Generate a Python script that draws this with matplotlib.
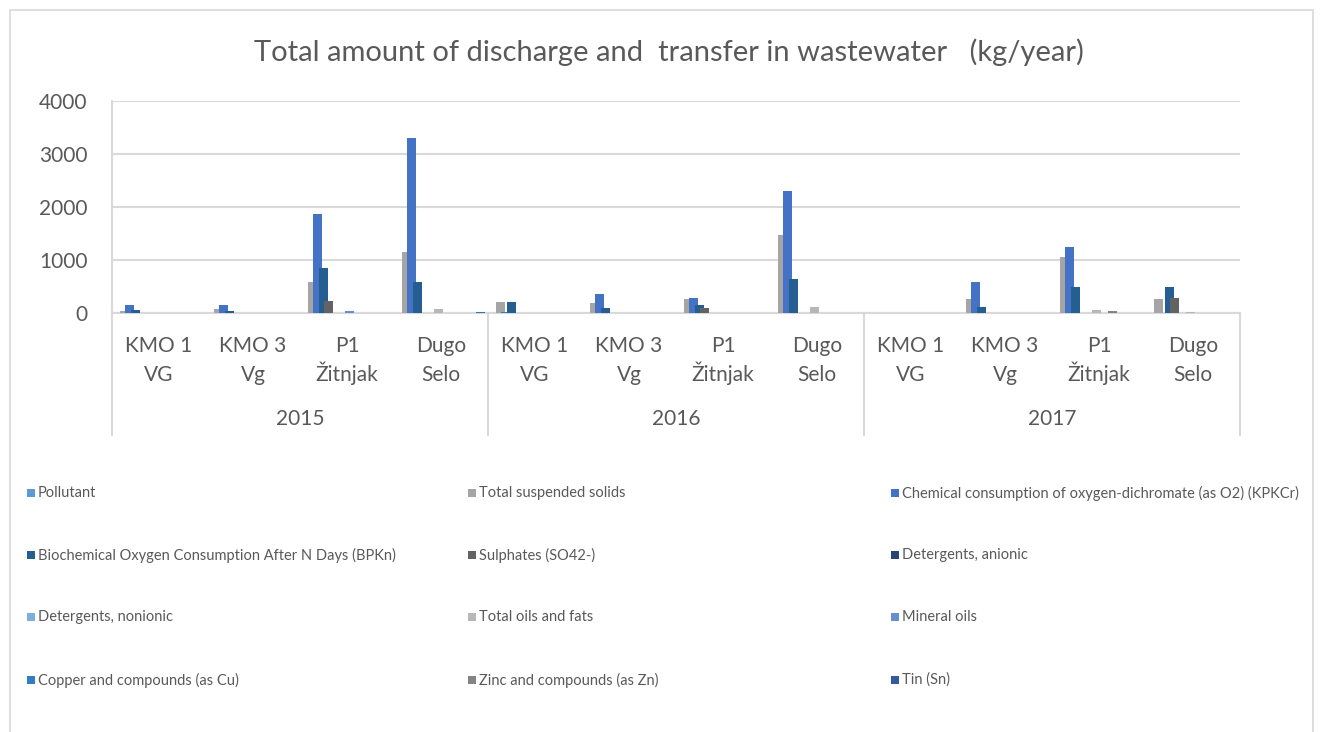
import numpy as np
import matplotlib
matplotlib.use("Agg")
import matplotlib.pyplot as plt
from matplotlib.patches import Rectangle
from matplotlib.transforms import blended_transform_factory

plt.rcParams["font.family"] = ["Lato", "DejaVu Sans"]

# ---- data ------------------------------------------------------------------
years = ["2015", "2016", "2017"]
sites = ["KMO 1\nVG", "KMO 3\nVg", "P1\nŽitnjak", "Dugo\nSelo"]

series_names = [
    "Pollutant",
    "Total suspended solids",
    "Chemical consumption of oxygen-dichromate (as O2) (KPKCr)",
    "Biochemical Oxygen Consumption After N Days (BPKn)",
    "Sulphates (SO42-)",
    "Detergents, anionic",
    "Detergents, nonionic",
    "Total oils and fats",
    "Mineral oils",
    "Copper and compounds (as Cu)",
    "Zinc and compounds (as Zn)",
    "Tin (Sn)",
    # the last four do not fit in the legend box of the original chart
    "Total nitrogen",
    "Total phosphorus",
    "Nickel and compounds (as Ni)",
    "Lead and compounds (as Pb)",
]

# 12 categories: 2015 x 4 sites, 2016 x 4 sites, 2017 x 4 sites
pollutant    = [0, 0, 0, 0, 0, 0, 0, 0, 0, 0, 0, 0]
tss          = [40, 70, 580, 1160, 200, 180, 260, 1480, 0, 260, 1060, 260]
cod          = [150, 150, 1870, 3300, 10, 350, 290, 2300, 0, 590, 1250, 0]
bpk          = [50, 30, 840, 580, 200, 90, 145, 635, 0, 120, 500, 485]
sulphates    = [0, 0, 220, 0, 0, 0, 100, 0, 0, 0, 0, 280]
det_anionic  = [0, 0, 0, 5, 0, 0, 0, 0, 0, 0, 0, 0]
det_nonionic = [0, 0, 0, 0, 0, 0, 0, 5, 0, 0, 0, 0]
oils_fats    = [0, 0, 5, 70, 0, 0, 8, 120, 0, 6, 55, 10]
mineral_oils = [0, 0, 40, 0, 0, 0, 0, 0, 0, 0, 0, 0]
copper       = [0, 0, 0, 0, 0, 0, 0, 0, 0, 0, 0, 0]
zinc         = [0, 0, 0, 0, 0, 0, 0, 0, 0, 0, 30, 0]
tin          = [0, 0, 0, 0, 0, 0, 0, 0, 0, 0, 0, 0]
nitrogen     = [0, 0, 0, 0, 0, 0, 0, 0, 0, 0, 0, 0]
phosphorus   = [0, 0, 0, 0, 0, 0, 0, 0, 0, 0, 0, 0]
nickel       = [0, 0, 0, 0, 0, 0, 0, 0, 0, 0, 0, 0]
lead         = [0, 0, 0, 20, 0, 0, 0, 0, 0, 0, 0, 0]

values = [pollutant, tss, cod, bpk, sulphates, det_anionic, det_nonionic,
          oils_fats, mineral_oils, copper, zinc, tin,
          nitrogen, phosphorus, nickel, lead]

colours = ["#5B9BD5", "#A5A5A5", "#4472C4", "#255E91", "#636363", "#264478",
           "#7CAFDD", "#B7B7B7", "#698ED0", "#327DC2", "#848484", "#335AA1",
           "#9DC3E6", "#C9C9C9", "#8FAADC", "#2E75B6"]

TXT = "#595959"
GRID = "#D9D9D9"

# ---- figure ------------------------------------------------------------------
W, H = 1322, 732
fig = plt.figure(figsize=(W / 100, H / 100), dpi=100)

# chart border
fig.patches.append(Rectangle((10 / W, -0.05), 1303 / W, 1.05 - 10 / H,
                             transform=fig.transFigure, fill=False,
                             edgecolor=GRID, lw=1.2))

ax_l, ax_r, ax_t, ax_b = 112, 1240, 101, 313
ax = fig.add_axes([ax_l / W, 1 - ax_b / H, (ax_r - ax_l) / W, (ax_b - ax_t) / H])

n_cat = len(years) * len(sites)
n_ser = len(values)
x = np.arange(n_cat)
step = 0.0564
width = 0.0957
start = -(step * (n_ser - 1) + width) / 2 + width / 2

for i, (vals, col) in enumerate(zip(values, colours)):
    ax.bar(x + start + i * step, vals, width=width, color=col, lw=0, zorder=3)

ax.set_xlim(-0.5, n_cat - 0.5)
ax.set_ylim(0, 4000)
ax.set_yticks(range(0, 4001, 1000))
ax.yaxis.grid(True, color=GRID, lw=1.5, zorder=0)
ax.tick_params(axis="y", length=0, labelsize=15, labelcolor=TXT, pad=17.5)
for s in ["top", "right"]:
    ax.spines[s].set_visible(False)
ax.spines["left"].set_color(GRID)
ax.spines["bottom"].set_color(GRID)
ax.spines["left"].set_linewidth(1.5)
ax.spines["bottom"].set_linewidth(1.5)

ax.set_xticks([])

# two-line category labels, year labels and group dividers
tr = blended_transform_factory(ax.transData, ax.transAxes)
ax_h = ax_b - ax_t
for k in range(n_cat):
    top, bottom = sites[k % len(sites)].split("\n")
    for line, base in [(top, 352), (bottom, 381)]:
        ax.text(k, (ax_b - base) / ax_h, line, transform=tr, ha="center",
                va="baseline", fontsize=15, color=TXT)
for j, yr in enumerate(years):
    ax.text(j * 4 + 1.5, (ax_b - 425) / ax_h, yr, transform=tr, ha="center",
            va="baseline", fontsize=15, color=TXT)
for xd in [-0.5, 3.5, 7.5, 11.5]:
    ax.plot([xd, xd], [0, (ax_b - 435) / ax_h], transform=tr, color=GRID,
            lw=1.5, clip_on=False)

fig.text(669 / W, 1 - 52 / H, "Total amount of discharge and  transfer in wastewater   (kg/year)",
         ha="center", va="center", fontsize=21, color=TXT)

# legend (3 columns, row-major like the original, only 12 entries fit)
col_x = [27, 468, 891]
row_y = [493, 555, 617, 680]
for k in range(12):
    r, c = divmod(k, 3)
    fig.patches.append(Rectangle((col_x[c] / W, 1 - (row_y[r] + 4) / H), 8 / W, 8 / H,
                                 transform=fig.transFigure, color=colours[k], lw=0))
    fig.text((col_x[c] + 11) / W, 1 - row_y[r] / H, series_names[k],
             ha="left", va="center", fontsize=10.5, color=TXT)

fig.savefig("out.png", dpi=100)
